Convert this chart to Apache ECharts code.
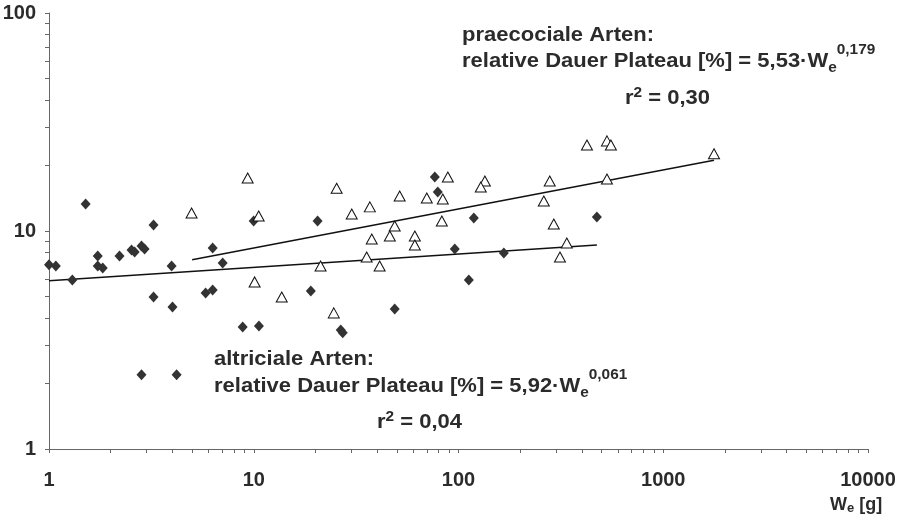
<!DOCTYPE html>
<html><head><meta charset="utf-8">
<script src="https://cdn.jsdelivr.net/npm/echarts@6/dist/echarts.min.js"></script>
<style>html,body{margin:0;padding:0;background:#fff}#c{width:905px;height:518px}</style>
</head><body><div id="c"></div>
<script>
// ---- data ----
const altricialWeight = [1.0, 1.08, 1.30, 1.51, 1.73, 1.73, 1.83, 2.21, 2.53, 2.62, 2.83, 2.93, 3.24, 3.24, 3.97, 4.01, 2.83, 4.20, 5.82, 6.30, 6.30, 7.05, 8.83, 10.6, 9.99, 20.5, 19.0, 26.6, 27.2, 48.8, 76.6, 79.2, 95.9, 118.8, 112.3, 166.5, 474];
const altricialPlateau = [7.0, 6.91, 5.96, 13.3, 7.68, 6.91, 6.77, 7.68, 8.18, 8.01, 8.54, 8.27, 10.65, 4.98, 6.91, 4.48, 2.19, 2.19, 5.20, 5.36, 8.36, 7.13, 3.63, 3.67, 11.11, 11.11, 5.31, 3.51, 3.41, 4.39, 17.69, 15.1, 8.27, 11.47, 5.96, 7.93, 11.6];
const precocialWeight = [4.97, 9.34, 10.57, 10.1, 13.7, 21.2, 24.6, 25.4, 30.1, 36.9, 37.7, 35.6, 41.2, 48.8, 46.2, 51.6, 61.2, 61.2, 70.0, 83.8, 88.7, 82.9, 134.5, 128.5, 279, 261, 292, 338, 313, 424, 531, 555, 531, 1770];
const precocialPlateau = [12.1, 17.5, 11.72, 5.84, 4.98, 6.91, 4.21, 15.7, 11.97, 12.9, 9.19, 7.60, 6.91, 10.54, 9.49, 14.47, 9.49, 8.62, 14.17, 14.02, 17.69, 11.11, 16.96, 15.9, 16.96, 13.73, 10.77, 8.81, 7.60, 24.8, 25.9, 24.8, 17.32, 22.6];
// regression line end points (straight lines on log-log axes)
const altricialFitWeight = [1, 474];
const altricialFitPlateau = [5.92, 8.62];
const precocialFitWeight = [5, 1770];
const precocialFitPlateau = [7.38, 21.1];
// tick labels
const xTickLabels = [1, 10, 100, 1000, 10000];
const yTickLabels = [1, 10, 100];

// minor tick values (every integer multiple within each decade)
function decadeTicks(maxExp) {
  const out = [];
  for (let e = 0; e < maxExp; e++) for (let m = 1; m < 10; m++) out.push(m * Math.pow(10, e));
  out.push(Math.pow(10, maxExp));
  return out;
}
const xTicks = decadeTicks(4);
const yTicks = decadeTicks(2);

const zip = (a, b) => a.map((v, i) => [v, b[i]]);

// ---- text annotation helpers ----
const FONT_FAMILY = '"Liberation Sans", Arial, sans-serif';
const TEXT_COLOR = '#2b2b2b';
const mctx = document.createElement('canvas').getContext('2d');
function textWidth(t, size) { mctx.font = 'bold ' + size + 'px ' + FONT_FAMILY; return mctx.measureText(t).width; }
function richLine(x, baseline, parts, scale) {
  const els = []; let cx = x;
  parts.forEach(([t, size, dy]) => {
    els.push({
      type: 'text', x: cx, y: baseline + dy - 0.3465 * size, scaleX: scale, z: 100,
      style: { text: t, font: 'bold ' + size + 'px ' + FONT_FAMILY, fill: TEXT_COLOR, align: 'left', verticalAlign: 'middle' }
    });
    cx += textWidth(t, size) * scale;
  });
  return els;
}
const S = 1.1;
const graphics = [].concat(
  richLine(462, 42, [['praecociale Arten:', 20, 0]], S),
  richLine(462, 68, [['relative Dauer Plateau [%] = 5,53\u00B7W', 20, 0], ['e', 14, 5], ['0,179', 14, -13]], S),
  richLine(625, 105, [['r', 20, 0], ['2', 14, -7], [' = 0,30', 20, 0]], S),
  richLine(214, 366, [['altriciale Arten:', 20, 0]], S),
  richLine(214, 393, [['relative Dauer Plateau [%] = 5,92\u00B7W', 20, 0], ['e', 14, 5], ['0,061', 14, -13]], S),
  richLine(377, 429, [['r', 20, 0], ['2', 14, -7], [' = 0,04', 20, 0]], S),
  richLine(830, 511, [['W', 18, 0], ['e', 13, 2], [' [g]', 18, 0]], 1)
);

const axisCommon = {
  type: 'log', logBase: 10,
  axisLine: { show: true, lineStyle: { color: '#666', width: 1 } },
  splitLine: { show: false },
  minorTick: { show: false },
  axisLabel: { fontSize: 20, fontWeight: 'bold', color: TEXT_COLOR, fontFamily: FONT_FAMILY, formatter: v => String(Math.round(v)) }
};

const chart = echarts.init(document.getElementById('c'), null, { renderer: 'canvas' });
chart.setOption({
  backgroundColor: '#fff',
  animation: false,
  grid: { left: 49, right: 37, top: 13, bottom: 69, containLabel: false, outerBoundsMode: 'none' },
  xAxis: Object.assign({}, axisCommon, {
    min: 1, max: 10000,
    axisTick: { show: true, length: 4, inside: false, customValues: xTicks, lineStyle: { color: '#666' } },
    axisLabel: Object.assign({}, axisCommon.axisLabel, { customValues: xTickLabels, margin: 21 })
  }),
  yAxis: Object.assign({}, axisCommon, {
    min: 1, max: 100,
    axisTick: { show: true, length: 4, inside: false, customValues: yTicks, lineStyle: { color: '#666' } },
    axisLabel: Object.assign({}, axisCommon.axisLabel, { customValues: yTickLabels, margin: 13 })
  }),
  series: [
    { type: 'line', data: zip(altricialFitWeight, altricialFitPlateau), showSymbol: false, symbol: 'none',
      lineStyle: { color: '#111', width: 1.5 }, z: 2 },
    { type: 'line', data: zip(precocialFitWeight, precocialFitPlateau), showSymbol: false, symbol: 'none',
      lineStyle: { color: '#111', width: 1.5 }, z: 2 },
    { type: 'scatter', data: zip(altricialWeight, altricialPlateau), symbol: 'diamond', symbolSize: [10, 11],
      itemStyle: { color: '#333', opacity: 1 }, z: 3 },
    { type: 'scatter', data: zip(precocialWeight, precocialPlateau), symbol: 'triangle', symbolSize: [11, 10],
      itemStyle: { color: '#fff', borderColor: '#111', borderWidth: 1, opacity: 1 }, z: 4 }
  ],
  graphic: graphics
});
</script>
</body></html>
